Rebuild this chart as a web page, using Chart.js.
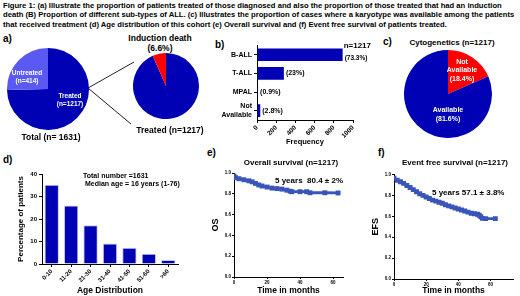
<!DOCTYPE html>
<html>
<head>
<meta charset="utf-8">
<script src="https://cdn.jsdelivr.net/npm/chart.js@4"></script>
<style>
body { margin:0; width:520px; height:296px; position:relative; overflow:hidden; background:#fff;
       font-family:"Liberation Sans", Arial, sans-serif; font-weight:bold; color:#000; }
.t { position:absolute; white-space:nowrap; line-height:1; }
.c { transform:translateX(-50%); text-align:center; }
.w { color:#fff; }
canvas { position:absolute; }
svg { position:absolute; left:0; top:0; }
</style>
</head>
<body>
<div class="t" style="left:3px;top:1px;font-size:7.65px;line-height:9.3px">
Figure 1: (a) Illustrate the proportion of patients treated of those diagnosed and also the proportion of those treated that had an induction<br>
death (B) Proportion of different sub-types of ALL. (c) Illustrates the proportion of cases where a karyotype was available among the patients<br>
that received treatment (d) Age distribution of this cohort (e) Overall survival and (f) Event free survival of patients treated.
</div>

<!-- panel labels -->
<div class="t" style="left:3px;top:34px;font-size:10px">a)</div>
<div class="t" style="left:215px;top:40px;font-size:10px">b)</div>
<div class="t" style="left:383px;top:37px;font-size:10px">c)</div>
<div class="t" style="left:3px;top:155px;font-size:10px">d)</div>
<div class="t" style="left:207px;top:148px;font-size:10px">e)</div>
<div class="t" style="left:378px;top:148px;font-size:10px">f)</div>

<svg width="520" height="296"><line x1="88" y1="88" x2="134" y2="62" stroke="#222" stroke-width="1"/>
<line x1="88" y1="88" x2="131" y2="124" stroke="#222" stroke-width="1"/></svg>

<canvas id="totalPie" width="82" height="82" style="left:7px;top:48px"></canvas>
<canvas id="inductionPie" width="66" height="66" style="left:133px;top:53px"></canvas>
<canvas id="subtypeChart" width="180" height="111" style="left:200px;top:35px"></canvas>
<canvas id="cytoPie" width="88" height="88" style="left:404px;top:50px"></canvas>
<canvas id="ageChart" width="185" height="131" style="left:10px;top:165px"></canvas>
<canvas id="osChart" width="150" height="131" style="left:200px;top:165px"></canvas>
<canvas id="efsChart" width="160" height="131" style="left:360px;top:165px"></canvas>

<!-- a) -->
<div class="t c w" style="left:27px;top:69px;font-size:6.5px;line-height:8px">Untreated<br>(n=414)</div>
<div class="t c w" style="left:70px;top:92px;font-size:6.5px;line-height:8px">Treated<br>(n=1217)</div>
<div class="t c" style="left:51px;top:133px;font-size:8.5px">Total (n= 1631)</div>
<div class="t c" style="left:160px;top:33px;font-size:8.5px;line-height:10px">Induction death<br>(6.6%)</div>
<div class="t c" style="left:170px;top:126px;font-size:8.5px">Treated (n=1217)</div>
<!-- c) -->
<div class="t c" style="left:452px;top:39px;font-size:8px">Cytogenetics (n=1217)</div>
<div class="t c w" style="left:462px;top:58px;font-size:7px;line-height:8.3px">Not<br>Available<br>(18.4%)</div>
<div class="t c w" style="left:448px;top:106px;font-size:7px;line-height:8.5px">Available<br>(81.6%)</div>
<!-- d) -->
<div class="t" style="left:83px;top:172px;font-size:7px">Total number =1631</div>
<div class="t" style="left:85px;top:180px;font-size:7px">Median age = 16 years (1-76)</div>
<!-- e) f) -->
<div class="t c" style="left:291px;top:159px;font-size:8px">Overall survival (n=1217)</div>
<div class="t" style="left:275px;top:177px;font-size:8px">5 years&nbsp; 80.4 ± 2%</div>
<div class="t c" style="left:455px;top:159px;font-size:8px">Event free survival (n=1217)</div>
<div class="t" style="left:432px;top:189px;font-size:8px">5 years 57.1 ± 3.8%</div>

<script>
// a) treated of diagnosed, induction death of treated
const totalLabels = ['Treated', 'Untreated'];
const totalCounts = [1217, 414];
const inductionLabels = ['Survived induction', 'Induction death'];
const inductionPct = [93.4, 6.6];

// b) ALL sub-types
const subtypes = ['B-ALL', 'T-ALL', 'MPAL', ['Not', 'Available']];
const subtypeCounts = [892, 280, 11, 34];
const subtypePctLabels = ['(73.3%)', '(23%)', '(0.9%)', '(2.8%)'];
const subtypeNote = 'n=1217';
const freqTicks = [0, 200, 400, 600, 800, 1000];

// c) cytogenetics
const cytoLabels = ['Not Available', 'Available'];
const cytoPct = [18.4, 81.6];

// d) age distribution
const ageGroups = ['0-10', '11-20', '21-30', '31-40', '41-50', '51-60', '>60'];
const agePct = [35.2, 26, 17.2, 9.1, 7.2, 4.6, 1.8];
const ageTicks = [0, 10, 20, 30, 40];

// e) overall survival
const osMonths = [0, 1, 3, 6, 9, 11, 13, 15, 17, 20, 23, 26, 29, 32, 34, 35, 40, 44, 46, 55, 63];
const osValues = [0.97, 0.955, 0.945, 0.935, 0.925, 0.915, 0.9, 0.885, 0.875, 0.865, 0.855, 0.85, 0.845, 0.835, 0.825, 0.82, 0.82, 0.82, 0.81, 0.81, 0.808];

// f) event free survival
const efsMonths = [0, 2, 4, 6, 8, 10, 12, 14, 16, 18, 20, 22, 24, 26, 28, 30, 32, 34, 36, 38, 40, 42, 44, 46, 48, 50, 52, 53, 54, 55, 57, 63];
const efsValues = [0.965, 0.945, 0.93, 0.915, 0.895, 0.875, 0.855, 0.835, 0.815, 0.8, 0.785, 0.77, 0.755, 0.745, 0.735, 0.725, 0.71, 0.7, 0.69, 0.68, 0.67, 0.66, 0.65, 0.64, 0.63, 0.625, 0.62, 0.61, 0.595, 0.58, 0.578, 0.578];

const survTicks = [0, 20, 40, 60];
const survYTicks = [0, 0.2, 0.4, 0.6, 0.8, 1.0];

const BLUE = '#0000b4';
const LIGHT_BLUE = '#5a5af2';
const RED = '#ff0000';
const LINE_BLUE = '#3a55b8';

Chart.defaults.font.family = '"Liberation Sans", Arial, sans-serif';
Chart.defaults.font.weight = 'bold';
Chart.defaults.color = '#000';
Chart.defaults.animation = false;
Chart.defaults.responsive = false;
Chart.defaults.plugins.legend.display = false;
Chart.defaults.plugins.tooltip.enabled = false;

const tickGrid = { drawOnChartArea: false, drawTicks: true, tickLength: 3, color: '#000', offset: false };
const axisBorder = { color: '#000', width: 1 };

function makePie(id, labels, values, colors) {
    return new Chart(document.getElementById(id), {
        type: 'pie',
        data: { labels: labels, datasets: [{ data: values, backgroundColor: colors, borderWidth: 0 }] },
        options: { layout: { padding: 0 } }
    });
}

makePie('totalPie', totalLabels, totalCounts, [BLUE, LIGHT_BLUE]);
makePie('inductionPie', inductionLabels, inductionPct, [BLUE, RED]);
makePie('cytoPie', cytoLabels, cytoPct, [RED, BLUE]);

// text at the end of each horizontal bar
const barLabels = {
    id: 'barLabels',
    afterDatasetsDraw(chart) {
        const ctx = chart.ctx;
        const bars = chart.getDatasetMeta(0).data;
        ctx.save();
        ctx.fillStyle = '#000';
        ctx.textBaseline = 'middle';
        bars.forEach((bar, i) => {
            ctx.font = 'bold ' + (i === 0 ? 6.5 : 7) + 'px "Liberation Sans", Arial';
            ctx.fillText(subtypePctLabels[i], bar.x + 2, i === 0 ? bar.y + 3 : bar.y);
        });
        ctx.font = 'bold 8px "Liberation Sans", Arial';
        ctx.fillText(subtypeNote, bars[0].x + 1, bars[0].y - 9);
        ctx.restore();
    }
};

new Chart(document.getElementById('subtypeChart'), {
    type: 'bar',
    data: {
        labels: subtypes,
        datasets: [{ data: subtypeCounts, backgroundColor: BLUE, barPercentage: 0.68, categoryPercentage: 1 }]
    },
    options: {
        indexAxis: 'y',
        layout: { padding: { top: 8, right: 27, left: 0, bottom: 0 } },
        scales: {
            x: {
                min: 0, max: 1000,
                afterBuildTicks: s => { s.ticks = freqTicks.map(v => ({ value: v })); },
                afterFit: s => { s.height = 26; },
                ticks: { font: { size: 6.5 }, minRotation: 45, maxRotation: 45, padding: 1, callback: v => String(v) },
                grid: tickGrid, border: axisBorder,
                title: { display: true, text: 'Frequency', font: { size: 7.5 }, padding: 0 }
            },
            y: {
                afterFit: s => { s.width = 57; },
                ticks: { font: { size: 7 }, padding: 2, autoSkip: false },
                grid: tickGrid, border: axisBorder
            }
        }
    },
    plugins: [barLabels]
});

new Chart(document.getElementById('ageChart'), {
    type: 'bar',
    data: {
        labels: ageGroups,
        datasets: [{ data: agePct, backgroundColor: BLUE, borderColor: '#c8c8f0', borderWidth: 1,
                     barPercentage: 0.74, categoryPercentage: 1 }]
    },
    options: {
        layout: { padding: { top: 9, right: 17, left: 0, bottom: 0 } },
        scales: {
            x: {
                afterFit: s => { s.height = 32; },
                ticks: { font: { size: 6 }, minRotation: 45, maxRotation: 45, padding: 1, autoSkip: false },
                grid: tickGrid, border: axisBorder,
                title: { display: true, text: 'Age Distribution', font: { size: 8.5 }, padding: 0 }
            },
            y: {
                min: 0, max: 40,
                afterBuildTicks: s => { s.ticks = ageTicks.map(v => ({ value: v })); },
                afterFit: s => { s.width = 32; },
                ticks: { font: { size: 6 }, padding: 2 },
                grid: tickGrid, border: axisBorder,
                title: { display: true, text: 'Percentage of patients', font: { size: 8 }, padding: { top: 6, bottom: 0 } }
            }
        }
    }
});

function makeSurvival(id, months, values, yTitle, xMax, yWidth, xHeight, padTop) {
    return new Chart(document.getElementById(id), {
        type: 'line',
        data: {
            datasets: [{
                data: months.map((m, i) => ({ x: m, y: values[i] })),
                borderColor: LINE_BLUE, backgroundColor: LINE_BLUE,
                borderWidth: 2.8, pointRadius: 1.5, pointStyle: 'rect', tension: 0
            }]
        },
        options: {
            layout: { padding: { top: padTop, right: 7, left: 0, bottom: 0 } },
            scales: {
                x: {
                    type: 'linear', min: 0, max: xMax,
                    afterBuildTicks: s => { s.ticks = survTicks.map(v => ({ value: v })); },
                    afterFit: s => { s.height = xHeight; },
                    ticks: { font: { size: 4.5 }, padding: 1, callback: v => String(v) },
                    grid: { drawOnChartArea: false, drawTicks: true, tickLength: 2, color: '#000' },
                    border: axisBorder,
                    title: { display: true, text: 'Time in months', font: { size: 8.5 }, padding: 0 }
                },
                y: {
                    min: 0, max: 1,
                    afterBuildTicks: s => { s.ticks = survYTicks.map(v => ({ value: v })); },
                    afterFit: s => { s.width = yWidth; },
                    ticks: { font: { size: 4.5 }, padding: 1, callback: v => v.toFixed(1) },
                    grid: { drawOnChartArea: false, drawTicks: true, tickLength: 2, color: '#000' },
                    border: axisBorder,
                    title: { display: true, text: yTitle, font: { size: 9 }, padding: { top: 10, bottom: 0 } }
                }
            }
        }
    });
}

makeSurvival('osChart', osMonths, osValues, 'OS', 66, 34, 19, 8);
makeSurvival('efsChart', efsMonths, efsValues, 'EFS', 74, 34, 17, 9.5);
</script>
</body>
</html>
